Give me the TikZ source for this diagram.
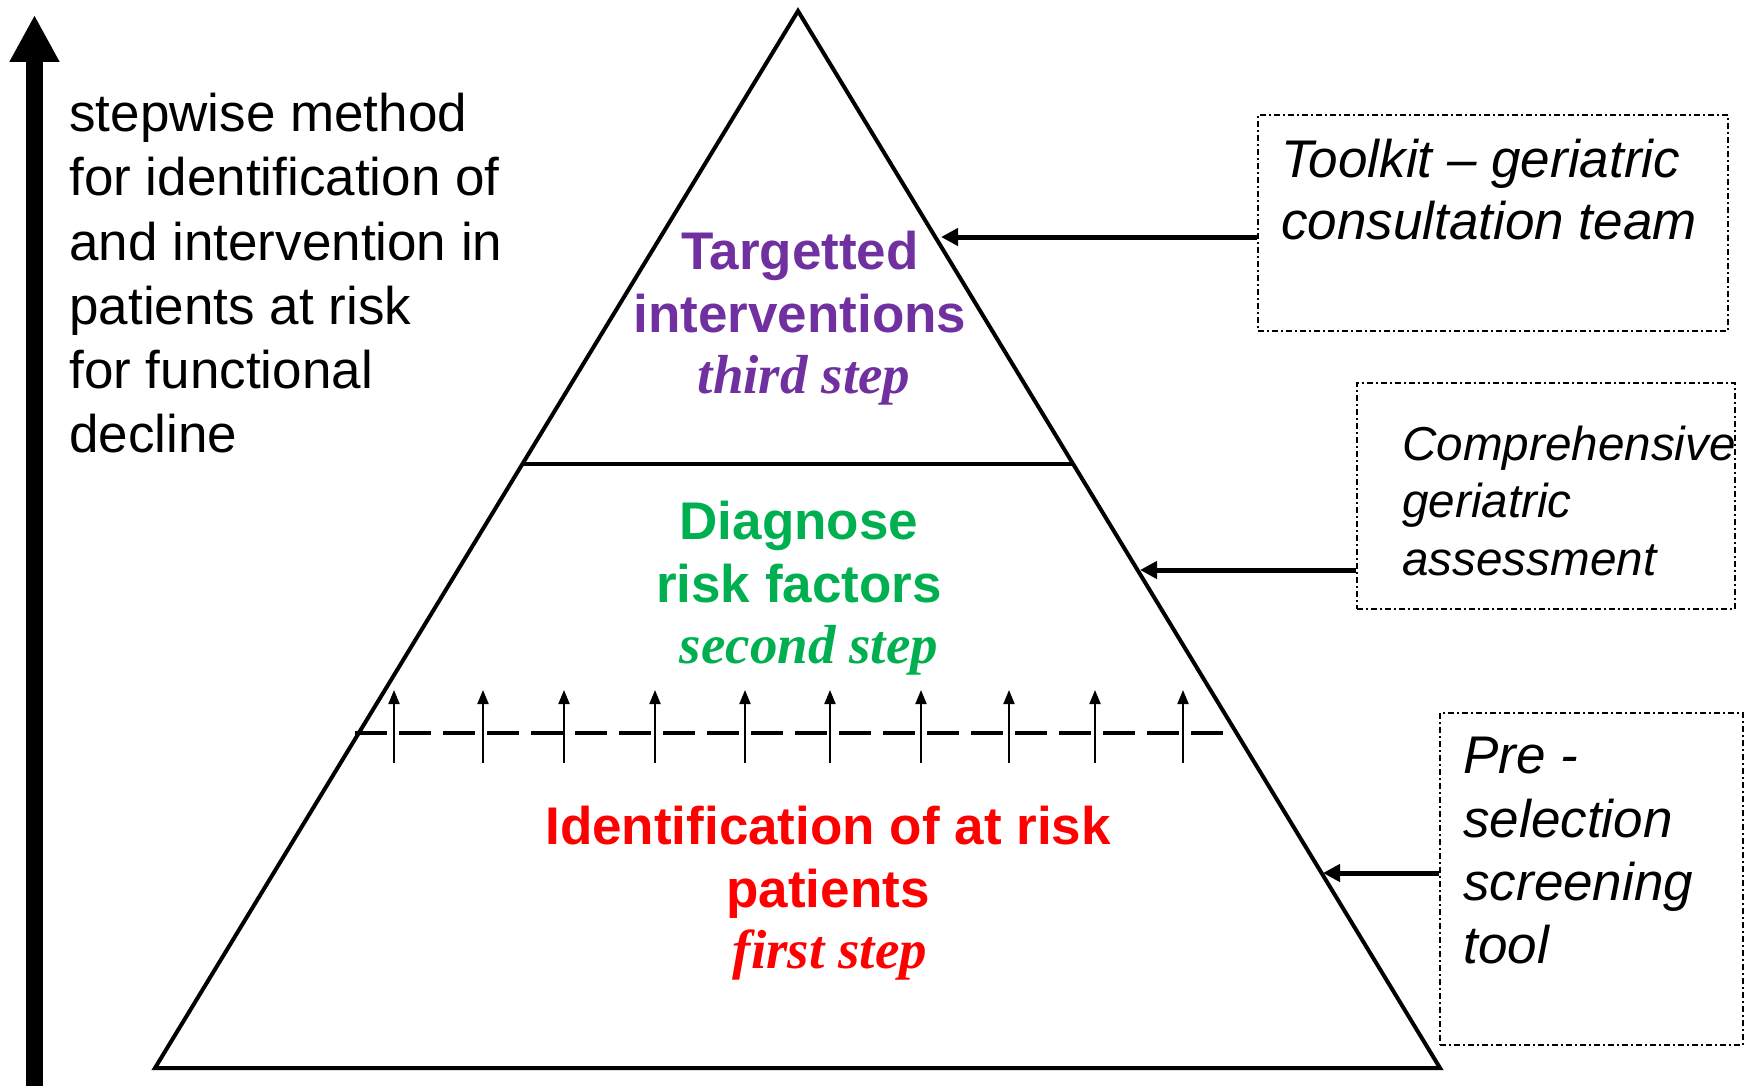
\documentclass[tikz,border=0pt]{standalone}
\usepackage{fontspec}
\setmainfont{Liberation Sans}
\newfontfamily\serifit{Liberation Serif}
\usetikzlibrary{arrows.meta,calc,fit}
\definecolor{purp}{HTML}{7030A0}
\definecolor{grn}{HTML}{00B050}
\definecolor{rd}{HTML}{FF0000}
\begin{document}
\begin{tikzpicture}[x=0.5pt,y=-0.5pt,
  lefttxt/.style={inner sep=0pt, anchor=base west, font=\fontsize{26.5}{32}\selectfont},
  boxtxt/.style={inner sep=0pt, anchor=base west, font=\fontsize{26.5}{32}\selectfont\itshape},
  boxtxtsmall/.style={inner sep=0pt, anchor=base west, font=\fontsize{23.8}{29}\selectfont\itshape},
  pyrtxt/.style={inner sep=0pt, anchor=base, font=\fontsize{26.5}{32}\selectfont\bfseries},
  steptxt/.style={inner sep=0pt, anchor=base, font=\fontsize{27.5}{32}\selectfont\serifit\bfseries\itshape},
  box/.style={draw, line width=1pt, dash pattern=on 3pt off 1.5pt on 1pt off 1.5pt, inner sep=0pt},
  conn/.style={line width=2.5pt, -{Triangle[length=8.5pt,width=8.5pt]}},
  upsmall/.style={line width=1pt, -{Triangle[length=7pt,width=5.5pt]}},
  pyr/.style={line width=2pt, line join=miter}]
\useasboundingbox (0,0) rectangle (1752,1086);

% big vertical arrow
\coordinate (vbot) at (34.5,1086);
\coordinate (vtop) at (34.5,15);
\draw[line width=8.5pt, -{Triangle[length=23.5pt,width=23.5pt]}] (vbot) -- (vtop);

% left text
\node[lefttxt] (l1) at (69,132) {stepwise method};
\node[lefttxt] (l2) at (69,196) {for identification of};
\node[lefttxt] (l3) at (69,260) {and intervention in};
\node[lefttxt] (l4) at (69,324) {patients at risk};
\node[lefttxt] (l5) at (69,388) {for functional};
\node[lefttxt] (l6) at (69,452) {decline};

% pyramid
\coordinate (apex) at (798,11);
\coordinate (bl) at (155,1068);
\coordinate (br) at (1440,1068);
\draw[pyr] (apex) -- (bl) -- (br) -- cycle;
\coordinate (ml) at ($(apex)!0.42857!(bl)$);
\coordinate (mr) at ($(apex)!0.42857!(br)$);
\draw[pyr] (ml) -- (mr);

% dashed line with small arrows
\coordinate (dl) at (355,733);
\coordinate (dr) at (1223,733);
\draw[line width=2pt, dash pattern=on 16pt off 6pt] (dl) -- (dr);
\foreach \x [count=\i] in {394,483,564,655,745,830,921,1009,1095,1183}{
  \coordinate (sb\i) at (\x,763);
  \coordinate (st\i) at (\x,690);
  \draw[upsmall] (sb\i) -- (st\i);
}

% pyramid texts
\node[pyrtxt, text=purp] (t1) at (800,269) {Targetted};
\node[pyrtxt, text=purp] (t2) at (800,332) {interventions};
\node[steptxt, text=purp] (t3) at (804,393) {third step};
\node[pyrtxt, text=grn] (d1) at (799,539) {Diagnose};
\node[pyrtxt, text=grn] (d2) at (799,602) {risk factors};
\node[steptxt, text=grn] (d3) at (809,663) {second step};
\node[pyrtxt, text=rd] (i1) at (828,844) {Identification of at risk};
\node[pyrtxt, text=rd] (i2) at (828,907) {patients};
\node[steptxt, text=rd] (i3) at (830,968) {first step};

% right boxes
\node[box, fit={(1258,115) (1728,331)}] (b1) {};
\node[boxtxt] (b1a) at (1281,177) {Toolkit -- geriatric};
\node[boxtxt] (b1b) at (1281,240) {consultation team};

\node[box, fit={(1357,383) (1735,609)}] (b2) {};
\node[boxtxtsmall] (b2a) at (1402,460) {Comprehensive};
\node[boxtxtsmall] (b2b) at (1402,517) {geriatric};
\node[boxtxtsmall] (b2c) at (1402,575) {assessment};

\node[box, fit={(1440,713) (1743,1045)}] (b3) {};
\node[boxtxt] (b3a) at (1463,773) {Pre -};
\node[boxtxt] (b3b) at (1463,837) {selection};
\node[boxtxt] (b3c) at (1463,900) {screening};
\node[boxtxt] (b3d) at (1463,963) {tool};

% connectors
\coordinate (tip1) at (941,237);
\coordinate (tip2) at (1140,570);
\coordinate (tip3) at (1323,873);
\draw[conn] (b1.west |- tip1) -- (tip1);
\draw[conn] (b2.west |- tip2) -- (tip2);
\draw[conn] (b3.west |- tip3) -- (tip3);
\end{tikzpicture}
\end{document}
